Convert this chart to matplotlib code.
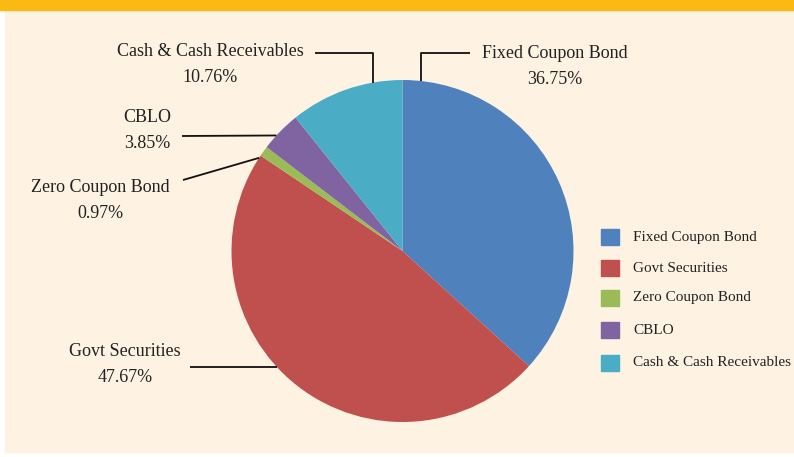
import numpy as np
import matplotlib
matplotlib.use("Agg")
import matplotlib.pyplot as plt
from matplotlib.patches import Rectangle

# data
labels = ["Fixed Coupon Bond", "Govt Securities", "Zero Coupon Bond", "CBLO", "Cash & Cash Receivables"]
shares = [36.75, 47.67, 0.97, 3.85, 10.76]
colors = ["#4F81BD", "#C0504D", "#9BBB59", "#8064A2", "#4BACC6"]

W, H = 794, 457
BG = "#FEF2E2"
plt.rcParams["font.family"] = ["Liberation Serif", "DejaVu Serif"]

fig = plt.figure(figsize=(W / 100, H / 100), dpi=100)
fig.patch.set_facecolor("white")
ax = fig.add_axes([0, 0, 1, 1])


def py(y):  # pixel row -> data y
    return H - y


# panel + orange strip
ax.add_patch(Rectangle((5, py(452)), W - 5, 452 - 10, color=BG, zorder=0))
ax.add_patch(Rectangle((0, py(10)), W, 10, color="#FDB913", zorder=0))

cx, cy, r = 402.5, py(251), 171
ax.pie(shares, colors=colors, startangle=90, counterclock=False,
       center=(cx, cy), radius=r, frame=True,
       wedgeprops=dict(linewidth=0))
ax.set_xlim(0, W); ax.set_ylim(0, H)
ax.set_aspect("equal")
ax.axis("off")

# leader lines: (angle on pie edge, path points in px, label centre in px, index)
callouts = [
    (84, [(421, 53), (470, 53)], (555, 53), 0),
    (99.5, [(373, 53), (315, 53)], (210, 52), 4),
    (137.5, [(182, 136)], (147, 118), 3),
    (147, [(183, 180)], (100, 187), 2),
    (222.7, [(190, 366)], (125, 352), 1),
]
for ang, path, (tx, ty), i in callouts:
    a = np.deg2rad(ang)
    ex, ey = cx + r * np.cos(a), cy + r * np.sin(a)
    xs = [ex] + [p[0] for p in path]
    ys = [ey] + [py(p[1]) for p in path]
    if len(path) == 2:
        xs[0] = path[0][0]  # vertical segment up from the rim
        ey = cy + np.sqrt(r ** 2 - (xs[0] - cx) ** 2)
        ys[0] = ey
    else:
        ys[-1] = ys[-1] if i != 1 else ey
    ax.plot(xs, ys, color="#111111", lw=1.3, solid_capstyle="butt")
    ax.text(tx, py(ty), labels[i], ha="center", va="center", fontsize=13, color="#222222")
    ax.text(tx, py(ty + 26), f"{shares[i]:.2f}%", ha="center", va="center",
            fontsize=13, color="#222222")

# legend
for k, (lab, col) in enumerate(zip(labels, colors)):
    yy = [237, 268, 298, 330, 363][k]
    ax.add_patch(Rectangle((601, py(yy + 8)), 18, 16, color=col))
    ax.text(633, py(yy), lab, ha="left", va="center", fontsize=11, color="#222222")

fig.savefig("out.png", dpi=100, facecolor=fig.get_facecolor())
